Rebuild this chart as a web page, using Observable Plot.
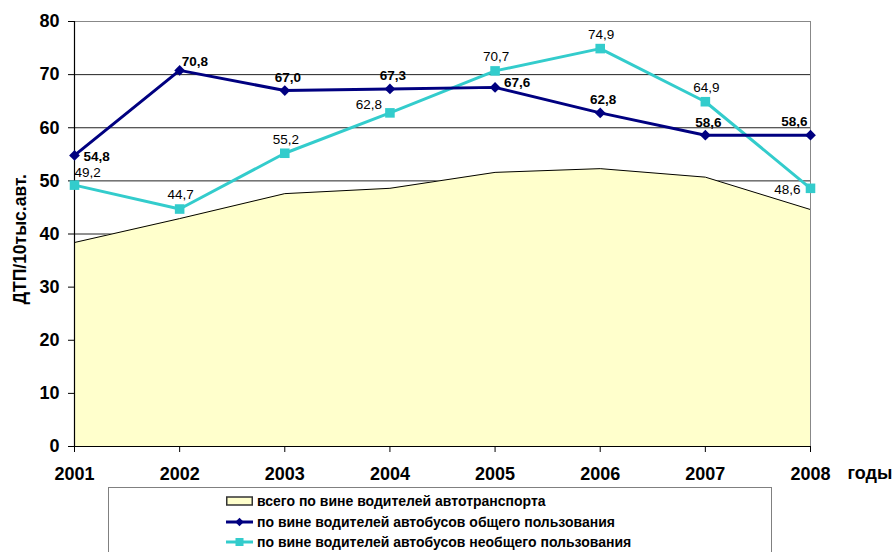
<!DOCTYPE html>
<html><head><meta charset="utf-8">
<script src="https://cdn.jsdelivr.net/npm/d3@7"></script>
<script src="https://cdn.jsdelivr.net/npm/@observablehq/plot@0.6"></script>
<style>
body{margin:0;background:#fff;font-family:"Liberation Sans",Arial,sans-serif;}
#wrap{position:relative;width:892px;height:552px;overflow:hidden;background:#fff;}
#chart{position:absolute;left:0;top:0;}
#legend{position:absolute;left:108px;top:487px;width:662px;height:90px;border:1.5px solid #808080;background:#fff;}
.row{position:absolute;left:117px;height:20px;display:flex;align-items:center;font-weight:bold;font-size:14px;color:#000;white-space:nowrap;}
.row svg{margin-right:4px;}
</style></head><body><div id="wrap"><div id="chart"></div><div id="legend"></div></div>
<script>
const years = [2001, 2002, 2003, 2004, 2005, 2006, 2007, 2008];
const totalAll = [38.4, 42.9, 47.6, 48.6, 51.6, 52.3, 50.7, 44.6];
const publicBus = [54.8, 70.8, 67.0, 67.3, 67.6, 62.8, 58.6, 58.6];
const otherBus = [49.2, 44.7, 55.2, 62.8, 70.7, 74.9, 64.9, 48.6];
const seriesNames = [
  "всего по вине водителей автотранспорта",
  "по вине водителей автобусов общего пользования",
  "по вине водителей автобусов необщего пользования"
];
const yTicks = [0, 10, 20, 30, 40, 50, 60, 70, 80];
const yTitle = "ДТП/10тыс.авт.";
const xTitle = "годы";

const NAVY = "#000080", CYAN = "#33CCCC", FILL = "#FFFFCC";
const fmt = v => v.toFixed(1).replace(".", ",");

const rowsTotal = years.map((y, i) => ({year: y, v: totalAll[i], i}));
const rowsPub = years.map((y, i) => ({year: y, v: publicBus[i], i}));
const rowsOth = years.map((y, i) => ({year: y, v: otherBus[i], i}));

function lab(rows, idx, opts, bold) {
  return Plot.text(rows, {
    x: "year", y: "v", text: d => fmt(d.v),
    filter: d => idx.includes(d.i),
    fontSize: 13.5, fontWeight: bold ? "bold" : "normal",
    fill: "#000", lineAnchor: "middle", ...opts
  });
}

const chart = Plot.plot({
  width: 892, height: 480,
  marginLeft: 74, marginRight: 82, marginTop: 21, marginBottom: 34,
  style: {fontFamily: '"Liberation Sans", Arial, sans-serif', fontWeight: "bold", background: "transparent", overflow: "visible"},
  x: {type: "linear", domain: [2001, 2008]},
  y: {domain: [0, 80]},
  marks: [
    Plot.ruleY(yTicks.filter(t => t > 0 && t < 80), {stroke: "#222", strokeWidth: 1}),
    Plot.areaY(rowsTotal, {x: "year", y: "v", fill: FILL}),
    Plot.lineY(rowsTotal, {x: "year", y: "v", stroke: "#000", strokeWidth: 1}),
    Plot.ruleY([80], {stroke: "#888", strokeWidth: 1}),
    Plot.ruleX([2008], {stroke: "#888", strokeWidth: 1}),
    Plot.axisY({ticks: yTicks, tickSize: 6, tickPadding: 9, fontSize: 18, label: null, stroke: "#000"}),
    Plot.axisX({ticks: years, tickFormat: "d", tickSize: 6, tickPadding: 15, fontSize: 18, label: null, stroke: "#000"}),
    Plot.ruleX([2001], {stroke: "#000", strokeWidth: 1.2}),
    Plot.ruleY([0], {stroke: "#000", strokeWidth: 1.2}),
    Plot.text([yTitle], {x: () => 2001, y: () => 39, dx: -54, rotate: -90, text: d => d, fontSize: 17.5, fontWeight: "bold", textAnchor: "middle", lineAnchor: "middle"}),
    Plot.text([xTitle], {x: () => 2008, y: () => 0, dx: 37, dy: 27, text: d => d, fontSize: 18, fontWeight: "bold", textAnchor: "start", lineAnchor: "middle"}),
    Plot.lineY(rowsOth, {x: "year", y: "v", stroke: CYAN, strokeWidth: 3}),
    Plot.lineY(rowsPub, {x: "year", y: "v", stroke: NAVY, strokeWidth: 3}),
    Plot.dot(rowsOth, {x: "year", y: "v", symbol: "square", r: 5.4, fill: CYAN, stroke: CYAN, strokeWidth: 0}),
    Plot.dot(rowsPub, {x: "year", y: "v", symbol: "square", r: 4.3, rotate: 45, fill: NAVY, stroke: NAVY, strokeWidth: 0}),
    lab(rowsPub, [0], {textAnchor: "start", dx: 9, dy: 1}, true),
    lab(rowsPub, [1], {textAnchor: "start", dx: 2, dy: -9}, true),
    lab(rowsPub, [2, 3, 5, 6], {textAnchor: "middle", dx: 3, dy: -13}, true),
    lab(rowsPub, [4], {textAnchor: "start", dx: 9, dy: -5}, true),
    lab(rowsPub, [7], {textAnchor: "end", dx: -3, dy: -14}, true),
    lab(rowsOth, [0], {textAnchor: "start", dx: 0, dy: -12}, false),
    lab(rowsOth, [1, 2, 4, 5, 6], {textAnchor: "middle", dx: 1, dy: -14}, false),
    lab(rowsOth, [3], {textAnchor: "end", dx: -8, dy: -8}, false),
    lab(rowsOth, [7], {textAnchor: "end", dx: -10, dy: 1}, false)
  ]
});
document.getElementById("chart").appendChild(chart);

// legend
const legend = document.getElementById("legend");
const syms = [
  `<svg width="27" height="12"><rect x="0.75" y="2" width="25.5" height="8" fill="${FILL}" stroke="#333" stroke-width="1.5"/></svg>`,
  `<svg width="27" height="12"><line x1="0" x2="27" y1="6" y2="6" stroke="${NAVY}" stroke-width="3"/><rect x="10.5" y="3" width="6" height="6" fill="${NAVY}" transform="rotate(45 13.5 6)"/></svg>`,
  `<svg width="27" height="12"><line x1="0" x2="27" y1="6" y2="6" stroke="${CYAN}" stroke-width="3"/><rect x="9.5" y="2" width="8" height="8" fill="${CYAN}"/></svg>`
];
const tops = [3, 23.5, 44];
seriesNames.forEach((name, k) => {
  const r = document.createElement("div");
  r.className = "row";
  r.style.top = tops[k] + "px";
  r.innerHTML = syms[k] + `<span>${name}</span>`;
  legend.appendChild(r);
});
</script></body></html>
